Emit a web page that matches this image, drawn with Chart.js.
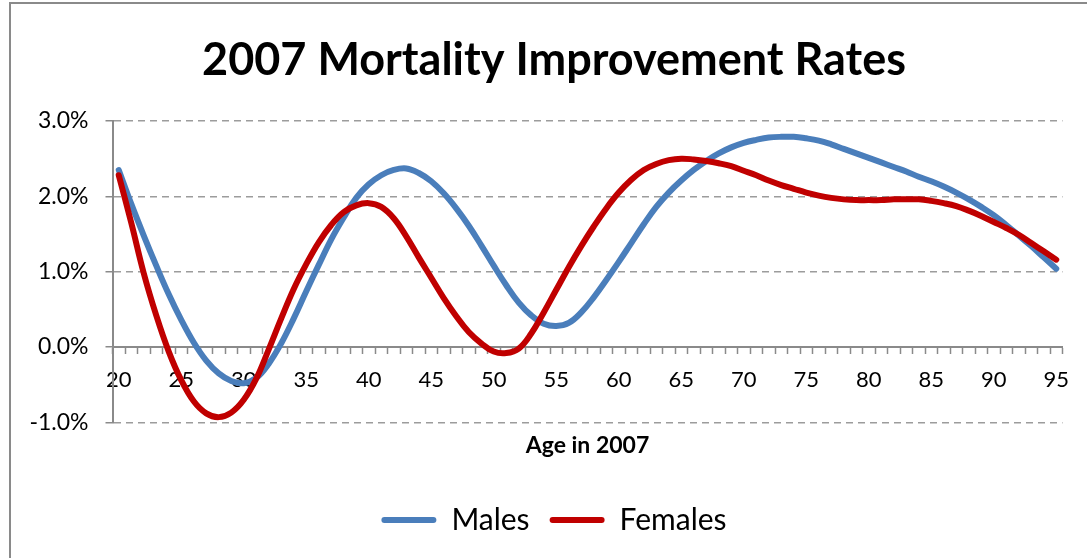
<!DOCTYPE html>
<html><head><meta charset="utf-8">
<script src="https://cdn.jsdelivr.net/npm/chart.js@4"></script>
<style>html,body{margin:0;padding:0;background:#fff;} canvas{display:block;}</style>
</head><body>
<canvas id="c" width="1087" height="558"></canvas>
<script>
const ages = [20,21,22,23,24,25,26,27,28,29,30,31,32,33,34,35,36,37,38,39,40,41,42,43,44,45,46,47,48,49,50,51,52,53,54,55,56,57,58,59,60,61,62,63,64,65,66,67,68,69,70,71,72,73,74,75,76,77,78,79,80,81,82,83,84,85,86,87,88,89,90,91,92,93,94,95];
const males = [2.35,1.90,1.48,1.08,0.70,0.36,0.06,-0.18,-0.35,-0.45,-0.48,-0.41,-0.22,0.05,0.38,0.74,1.09,1.43,1.72,1.98,2.16,2.28,2.35,2.37,2.31,2.20,2.04,1.84,1.61,1.35,1.08,0.82,0.59,0.42,0.31,0.28,0.32,0.46,0.66,0.89,1.13,1.38,1.63,1.86,2.05,2.21,2.35,2.47,2.57,2.65,2.71,2.75,2.78,2.79,2.79,2.77,2.74,2.69,2.63,2.57,2.51,2.45,2.39,2.33,2.26,2.20,2.13,2.05,1.96,1.86,1.75,1.62,1.48,1.34,1.19,1.04];
const females = [2.28,1.65,0.98,0.42,-0.06,-0.44,-0.72,-0.88,-0.93,-0.87,-0.70,-0.42,-0.03,0.38,0.77,1.10,1.39,1.62,1.79,1.88,1.91,1.86,1.71,1.47,1.19,0.92,0.65,0.41,0.20,0.05,-0.06,-0.08,-0.02,0.18,0.46,0.76,1.06,1.34,1.60,1.84,2.05,2.22,2.35,2.43,2.48,2.50,2.49,2.47,2.44,2.40,2.34,2.28,2.21,2.15,2.10,2.05,2.01,1.98,1.96,1.95,1.95,1.95,1.96,1.96,1.96,1.94,1.91,1.87,1.81,1.74,1.66,1.58,1.49,1.38,1.27,1.16];
const yTickValues = [-1, 0, 1, 2, 3];
const seriesNames = ['Males', 'Females'];
const chartTitle = '2007 Mortality Improvement Rates';
const xAxisTitle = 'Age in 2007';

const framePlugin = {
  id: 'frame',
  afterLayout(chart) {
    // let the y tick labels use the space left of the padded box
    chart.scales.y.left = 12;
  },
  beforeDraw(chart) {
    const ctx = chart.ctx;
    ctx.save();
    ctx.fillStyle = '#fff';
    ctx.fillRect(0, 0, chart.width, chart.height);
    ctx.strokeStyle = '#8a8a8a';
    ctx.lineWidth = 2;
    ctx.beginPath();
    ctx.moveTo(10, chart.height);
    ctx.lineTo(10, 3);
    ctx.lineTo(chart.width, 3);
    ctx.stroke();
    ctx.restore();
  }
};

Chart.defaults.font.family = 'Lato';
Chart.defaults.color = '#000';

new Chart(document.getElementById('c'), {
  type: 'line',
  data: {
    labels: ages,
    datasets: [
      { label: seriesNames[0], data: males, borderColor: '#4A7EBB', backgroundColor: '#4A7EBB', borderWidth: 6, pointRadius: 0, tension: 0.4, borderCapStyle: 'round', borderJoinStyle: 'round', order: 1 },
      { label: seriesNames[1], data: females, borderColor: '#C00000', backgroundColor: '#C00000', borderWidth: 6, pointRadius: 0, tension: 0.4, borderCapStyle: 'round', borderJoinStyle: 'round', order: 0 }
    ]
  },
  options: {
    responsive: false,
    animation: false,
    devicePixelRatio: 1,
    layout: { padding: { left: 45.5, right: 24.5, top: 0, bottom: 13 } },
    plugins: {
      title: { display: true, text: chartTitle, font: { size: 45, weight: 'bold' }, padding: { top: 33, bottom: 34 }, color: '#000' },
      subtitle: { display: true, text: xAxisTitle, position: 'bottom', fullSize: false, weight: 500, font: { size: 23, weight: 'bold' }, padding: { top: 9, bottom: 26 }, color: '#000' },
      legend: {
        position: 'bottom',
        labels: {
          font: { size: 30 },
          boxWidth: 55,
          boxHeight: 6,
          padding: 20,
          useBorderRadius: true,
          borderRadius: 3,
          sort: (a, b) => a.datasetIndex - b.datasetIndex,
          generateLabels: (chart) => Chart.defaults.plugins.legend.labels.generateLabels(chart).map(l => Object.assign(l, { lineWidth: 0, fillStyle: l.strokeStyle }))
        }
      },
      tooltip: { enabled: false }
    },
    scales: {
      x: {
        type: 'category',
        position: { y: 0 },
        offset: true,
        afterFit: (s) => { s.height = 0; },
        grid: { display: true, drawOnChartArea: false, drawTicks: true, offset: true, tickLength: 6, tickColor: '#8a8a8a', tickWidth: 1.5 },
        border: { display: true, color: '#8a8a8a', width: 2 },
        ticks: {
          autoSkip: false, maxRotation: 0, minRotation: 0, padding: 14,
          font: { size: 22 },
          callback: (v, i) => (ages[i] % 5 === 0 ? String(ages[i]) : '')
        }
      },
      y: {
        min: -1, max: 3,
        afterFit: (s) => { s.width = 67; },
        afterBuildTicks: (s) => { s.ticks = yTickValues.map(v => ({ value: v })); },
        grid: { color: '#9c9c9c', lineWidth: 1.5, tickLength: 7, tickColor: '#8a8a8a', tickWidth: 1.5 },
        border: { display: true, color: '#8a8a8a', width: 2, dash: [7, 5] },
        ticks: { padding: 17, font: { size: 23 }, callback: (v) => v.toFixed(1) + '%' }
      }
    }
  },
  plugins: [framePlugin]
});
</script>
</body></html>
